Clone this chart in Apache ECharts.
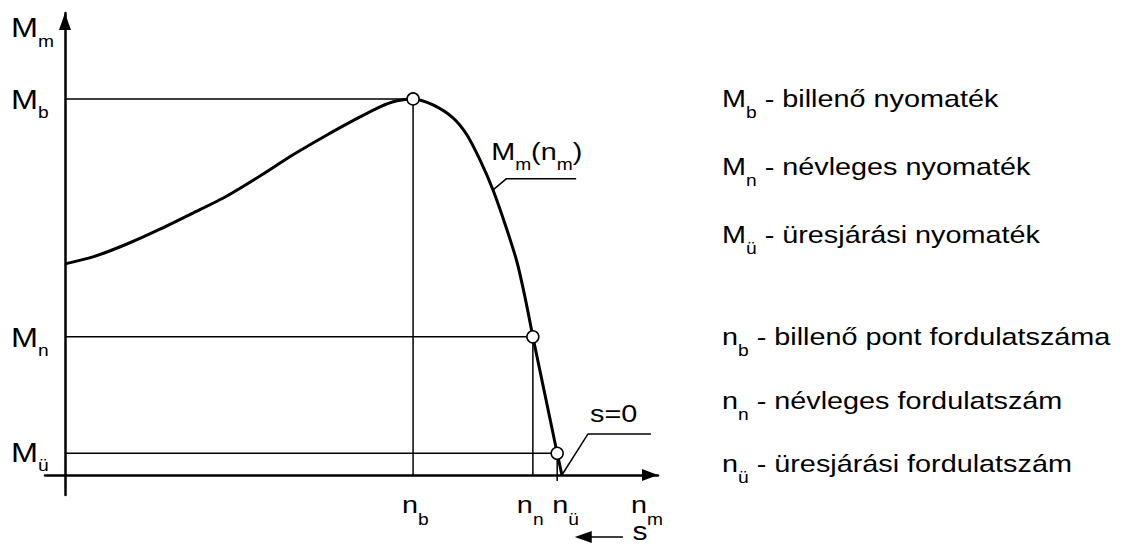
<!DOCTYPE html>
<html>
<head>
<meta charset="utf-8">
<script src="https://cdn.jsdelivr.net/npm/echarts@6/dist/echarts.min.js"></script>
<style>
  html, body { margin: 0; padding: 0; background: #fff; }
  #chart { width: 1122px; height: 544px; }
</style>
</head>
<body>
<div id="chart"></div>
<script>
// motor torque curve M(n); n runs 0..100 up to the arrow tip, M likewise
const curveN = [0, 4.72, 10.46, 16.02, 21.59, 27.32, 32.88, 38.45, 44.18, 49.75, 53.12, 55.99, 58.7, 62.06, 65.43, 67.79, 69.98, 72.18, 74.37, 76.22, 77.57, 78.9];
const curveM = [45.7, 47.2, 50.0, 53.2, 56.7, 60.4, 64.7, 69.3, 73.6, 77.5, 79.7, 81.0, 81.4, 80.1, 77.3, 73.6, 68.2, 61.7, 53.7, 46.1, 38.5, 29.9];
const steepN = [78.9, 83.0, 83.8];
const steepM = [29.9, 4.7, 0];

// marked points: billenő, névleges, üresjárási
const pointN = [58.7, 78.9, 83.0];
const pointM = [81.4, 29.9, 4.7];
const pointFoot = [0, 0, -1.3];
const tickSub = ['b', 'n', 'ü'];

const curveLeaderN = [72.2, 74.4, 86.2];
const curveLeaderM = [61.7, 64.1, 64.1];
const s0LeaderN = [83.8, 88.2, 98.8];
const s0LeaderM = [0, 8.9, 8.9];
const slipArrowN = [94.1, 87.4];
const slipArrowM = [-13.4, -13.4];

const legendSym = ['M', 'M', 'M', 'n', 'n', 'n'];
const legendSub = ['b', 'n', 'ü', 'b', 'n', 'ü'];
const legendText = [' - billenő nyomaték', ' - névleges nyomaték', ' - üresjárási nyomaték',
  ' - billenő pont fordulatszáma', ' - névleges fordulatszám', ' - üresjárási fordulatszám'];

// text layout (pixels)
const legendY = [99, 167, 235, 337, 401, 464];
const xTickDx = [-11, -16, -5];
const FONT = '"Liberation Sans", Arial, sans-serif';
const STRETCH = 1.2;

const zip = (a, b) => a.map((v, i) => [v, b[i]]);
const thin = { color: '#000', width: 1.5 };

let guides = pointN.map((n, i) => ({
  type: 'line', symbol: 'none', silent: true, lineStyle: thin,
  data: [[0, pointM[i]], [n, pointM[i]], [n, pointFoot[i]]]
}));

let option = {
  animation: false,
  backgroundColor: '#fff',
  grid: { left: 45, right: 464, top: 13, bottom: 49, containLabel: false, outerBoundsMode: 'none' },
  xAxis: {
    type: 'value', min: -3.37, max: 100,
    axisLine: { onZero: true, lineStyle: { color: '#000', width: 2.5 },
      symbol: ['none', 'triangle'], symbolSize: [12, 16], symbolOffset: [0, -8] },
    axisTick: { show: false }, axisLabel: { show: false }, splitLine: { show: false }
  },
  yAxis: {
    type: 'value', min: -4.33, max: 100,
    axisLine: { onZero: true, lineStyle: { color: '#000', width: 2.5 },
      symbol: ['none', 'triangle'], symbolSize: [12, 17], symbolOffset: [0, -8.5] },
    axisTick: { show: false }, axisLabel: { show: false }, splitLine: { show: false }
  },
  series: guides.concat([
    {
      type: 'line', symbol: 'none', smooth: 0.25, silent: true,
      lineStyle: { color: '#000', width: 3 }, data: zip(curveN, curveM)
    },
    {
      type: 'line', symbol: 'none', silent: true,
      lineStyle: { color: '#000', width: 3 }, data: zip(steepN, steepM)
    },
    { type: 'line', symbol: 'none', silent: true, lineStyle: thin, data: zip(curveLeaderN, curveLeaderM) },
    { type: 'line', symbol: 'none', silent: true, lineStyle: thin, data: zip(s0LeaderN, s0LeaderM) },
    {
      type: 'line', silent: true, clip: false, showSymbol: true,
      lineStyle: { color: '#000', width: 1.5 }, itemStyle: { color: '#000' },
      data: [
        { value: [slipArrowN[0], slipArrowM[0]], symbol: 'none' },
        { value: [slipArrowN[1], slipArrowM[1]], symbol: 'triangle', symbolSize: [12, 17], symbolRotate: 90 }
      ]
    },
    {
      type: 'scatter', silent: true, z: 5, symbolSize: 12,
      itemStyle: { color: '#fff', borderColor: '#000', borderWidth: 1.5, opacity: 1 },
      data: zip(pointN, pointM)
    }
  ])
};

let chart = echarts.init(document.getElementById('chart'), null, { renderer: 'svg' });
chart.setOption(option);

// text with subscripts, drawn a bit wide like the original lettering
function label(x, y, parts, size, subSize, drop, align) {
  return {
    type: 'text', x: x, y: y, scaleX: STRETCH, silent: true, z: 10,
    style: {
      text: parts.map(p => '{' + (p[1] ? 's' : 'm') + '|' + p[0] + '}').join(''),
      align: align || 'left', verticalAlign: 'middle',
      rich: {
        m: { fontSize: size, fontFamily: FONT, lineHeight: 2 * drop + subSize, fill: '#000' },
        s: { fontSize: subSize, fontFamily: FONT, height: subSize, lineHeight: subSize, verticalAlign: 'bottom', fill: '#000' }
      }
    }
  };
}

let px = (n, m) => chart.convertToPixel({ gridIndex: 0 }, [n, m]);
let texts = [];

// axis names
texts.push(label(11, 27.6, [['M'], ['m', 1]], 27, 16, 14, 'left'));
texts.push(label(631, 505, [['n'], ['m', 1]], 24, 16, 15, 'left'));

// tick labels on both axes
tickSub.forEach((s, i) => {
  let py = px(0, pointM[i])[1];
  texts.push(label(11, py + (i === 2 ? -1 : 1), [['M'], [s, 1]], 27, 16, 13, 'left'));
  let pxx = px(pointN[i], 0)[0];
  texts.push(label(pxx + xTickDx[i], 505, [['n'], [s, 1]], 24, 16, 15, 'left'));
});

// curve name and s=0
let lead = px(curveLeaderN[0], curveLeaderM[0]);
texts.push(label(lead[0] - 2, 151.7, [['M'], ['m', 1], ['(n'], ['m', 1], [')']], 24, 16, 13, 'left'));
let s0 = px(s0LeaderN[1], s0LeaderM[1]);
texts.push(label(s0[0] + 2, 413.7, [['s=0']], 24, 16, 13, 'left'));
let sa = px(slipArrowN[0], slipArrowM[0]);
texts.push(label(sa[0] + 17, 531, [['s']], 25, 17, 4, 'center'));

// explanation list on the right
legendSym.forEach((m, i) => {
  texts.push(label(722, legendY[i], [[m], [legendSub[i], 1], [legendText[i]]], 24, 16, 14, 'left'));
});

chart.setOption({ graphic: { elements: texts } });
</script>
</body>
</html>
